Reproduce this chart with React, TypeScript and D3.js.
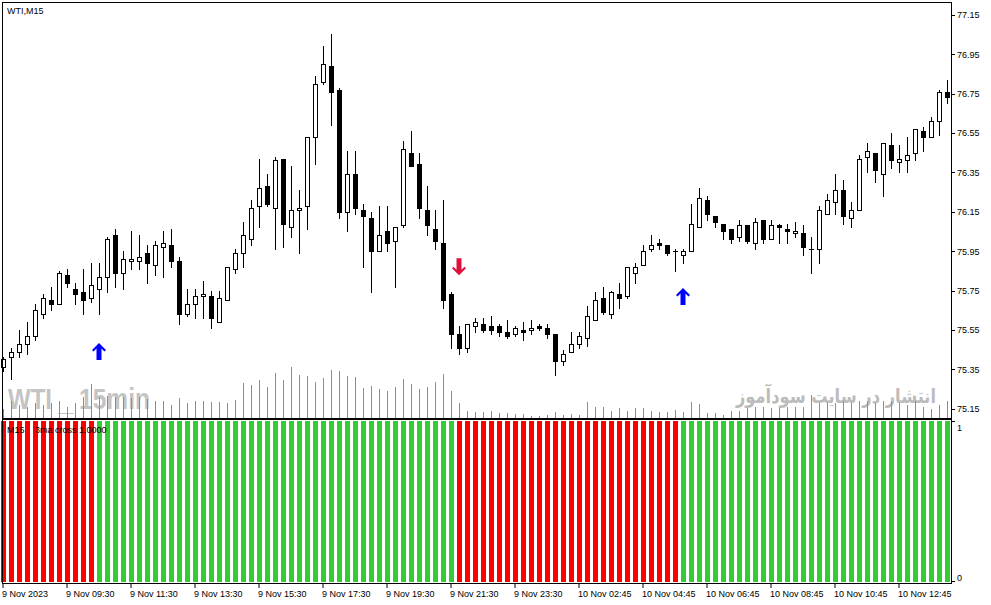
import React from "react";
import * as d3 from "d3";

// ---- data (WTI, M15) ----
const opens = [
  75.36, 75.41, 75.44, 75.48, 75.52, 75.63, 75.70, 75.68, 75.83, 75.76,
  75.74, 75.71, 75.76, 75.82, 76.03, 75.84, 75.90, 75.90, 75.94, 75.88,
  75.97, 75.98, 75.90, 75.63, 75.68, 75.72, 75.72, 75.59, 75.70, 75.86,
  75.94, 76.01, 76.18, 76.28, 76.17, 76.42, 76.07, 76.16, 76.18, 76.53,
  76.81, 76.89, 76.77, 76.15, 76.34, 76.16, 76.12, 75.95, 76.05, 76.00,
  76.08, 76.45, 76.39, 76.16, 76.06, 75.99, 75.73, 75.53, 75.46, 75.57,
  75.58, 75.57, 75.57, 75.54, 75.53, 75.55, 75.55, 75.57, 75.56, 75.53,
  75.39, 75.44, 75.48, 75.51, 75.60, 75.71, 75.63, 75.73, 75.72, 75.84,
  75.88, 75.96, 75.99, 75.98, 75.95, 75.93, 75.95, 76.07, 76.21, 76.13,
  76.09, 76.06, 76.02, 76.08, 75.99, 76.11, 76.01, 76.08, 76.06, 76.04,
  76.04, 75.96, 75.96, 76.14, 76.20, 76.26, 76.12, 76.16, 76.43, 76.45,
  76.34, 76.49, 76.40, 76.41, 76.45, 76.56, 76.53, 76.61, 76.76,
];
const highs = [
  75.41, 75.46, 75.55, 75.59, 75.68, 75.73, 75.77, 75.85, 75.86, 75.79,
  75.86, 75.89, 75.89, 76.02, 76.06, 75.95, 76.05, 76.03, 75.98, 76.00,
  76.05, 76.06, 75.92, 75.76, 75.76, 75.80, 75.75, 75.75, 75.87, 75.96,
  76.10, 76.21, 76.42, 76.34, 76.43, 76.42, 76.38, 76.26, 76.53, 76.84,
  76.99, 77.05, 76.78, 76.46, 76.46, 76.19, 76.15, 76.18, 76.18, 76.07,
  76.51, 76.56, 76.45, 76.28, 76.16, 76.21, 75.74, 75.57, 75.58, 75.61,
  75.61, 75.62, 75.58, 75.60, 75.57, 75.59, 75.60, 75.58, 75.58, 75.53,
  75.45, 75.54, 75.54, 75.67, 75.74, 75.77, 75.75, 75.79, 75.87, 75.89,
  75.98, 76.03, 76.01, 75.98, 75.96, 75.96, 76.19, 76.27, 76.23, 76.13,
  76.09, 76.06, 76.11, 76.08, 76.12, 76.11, 76.11, 76.09, 76.09, 76.10,
  76.08, 76.02, 76.18, 76.24, 76.34, 76.31, 76.20, 76.44, 76.50, 76.45,
  76.50, 76.55, 76.49, 76.53, 76.57, 76.58, 76.63, 76.77, 76.82,
];
const lows = [
  75.34, 75.30, 75.41, 75.43, 75.50, 75.61, 75.65, 75.68, 75.77, 75.68,
  75.63, 75.69, 75.63, 75.74, 75.77, 75.76, 75.86, 75.86, 75.79, 75.83,
  75.82, 75.87, 75.58, 75.62, 75.61, 75.61, 75.56, 75.59, 75.70, 75.84,
  75.87, 75.98, 76.07, 76.18, 75.96, 75.97, 76.02, 75.94, 76.06, 76.39,
  76.80, 76.59, 76.12, 76.05, 76.14, 75.87, 75.74, 75.95, 75.95, 75.77,
  76.07, 76.38, 76.12, 76.03, 75.96, 75.66, 75.46, 75.43, 75.44, 75.54,
  75.54, 75.53, 75.52, 75.51, 75.52, 75.50, 75.53, 75.55, 75.51, 75.32,
  75.37, 75.44, 75.46, 75.47, 75.60, 75.63, 75.61, 75.66, 75.71, 75.79,
  75.88, 75.95, 75.96, 75.93, 75.85, 75.89, 75.95, 76.07, 76.11, 76.07,
  76.01, 75.99, 76.00, 75.99, 75.96, 75.99, 76.01, 75.99, 75.99, 76.02,
  75.93, 75.84, 75.89, 76.14, 76.14, 76.09, 76.07, 76.16, 76.35, 76.30,
  76.23, 76.37, 76.35, 76.35, 76.41, 76.46, 76.53, 76.54, 76.70,
];
const closes = [
  75.40, 75.44, 75.48, 75.52, 75.65, 75.71, 75.68, 75.84, 75.79, 75.73,
  75.70, 75.78, 75.82, 76.01, 75.84, 75.91, 75.91, 75.92, 75.89, 75.98,
  75.99, 75.90, 75.63, 75.68, 75.72, 75.73, 75.61, 75.71, 75.87, 75.94,
  76.03, 76.17, 76.27, 76.19, 76.41, 76.09, 76.16, 76.17, 76.53, 76.80,
  76.90, 76.76, 76.15, 76.34, 76.17, 76.13, 75.95, 76.03, 75.99, 76.07,
  76.47, 76.38, 76.17, 76.08, 76.00, 75.70, 75.53, 75.46, 75.58, 75.59,
  75.55, 75.55, 75.54, 75.52, 75.56, 75.54, 75.56, 75.56, 75.53, 75.39,
  75.43, 75.48, 75.52, 75.62, 75.70, 75.64, 75.74, 75.71, 75.87, 75.87,
  75.95, 75.98, 75.98, 75.94, 75.95, 75.95, 76.09, 76.22, 76.14, 76.10,
  76.05, 76.01, 76.08, 76.00, 76.10, 76.01, 76.08, 76.07, 76.05, 76.05,
  75.97, 75.96, 76.16, 76.21, 76.26, 76.13, 76.16, 76.42, 76.46, 76.36,
  76.50, 76.41, 76.42, 76.44, 76.57, 76.53, 76.61, 76.76, 76.73,
];
const volumes = [
  450, 850, 650, 550, 750, 650, 750, 850, 550, 750,
  1050, 1700, 1050, 1100, 1050, 1050, 1000, 1050, 950, 850,
  850, 650, 1000, 750, 850, 850, 800, 800, 750, 900,
  1750, 1650, 1900, 1550, 2250, 1900, 2550, 2150, 2100, 1800,
  2000, 2400, 2350, 2100, 2050, 1500, 1600, 1450, 1350, 1550,
  1950, 1700, 1450, 1550, 1800, 2200, 1350, 750, 350, 300,
  300, 350, 250, 250, 200, 200, 100, 100, 150, 300,
  150, 200, 150, 800, 550, 550, 350, 500, 350, 500,
  500, 350, 300, 300, 400, 300, 800, 700, 250, 250,
  150, 350, 350, 500, 550, 550, 500, 500, 550, 550,
  550, 1150, 750, 750, 750, 850, 750, 850, 850, 750,
  850, 850, 750, 650, 850, 550, 450, 650, 850,
];
const priceTicks = [75.15, 75.35, 75.55, 75.75, 75.95, 76.15, 76.35, 76.55, 76.75, 76.95, 77.15];
const timeTickIndex = [0, 8, 16, 24, 32, 40, 48, 56, 64, 72, 80, 88, 96, 104, 112];
const timeLabels = [
  "9 Nov 2023", "9 Nov 09:30", "9 Nov 11:30", "9 Nov 13:30", "9 Nov 15:30",
  "9 Nov 17:30", "9 Nov 19:30", "9 Nov 21:30", "9 Nov 23:30", "10 Nov 02:45",
  "10 Nov 04:45", "10 Nov 06:45", "10 Nov 08:45", "10 Nov 10:45", "10 Nov 12:45",
];
// 3ma cross signals
const crossIndex = [12, 57, 85];
const crossDir = ["up", "down", "up"];
const crossPrice = [75.44, 75.87, 75.72];
const initialDir = "down";

const FONT = "'Liberation Sans', Arial, sans-serif";

export default function App() {
  const n = closes.length;
  const x = d3.scaleLinear().domain([0, n - 1]).range([3.5, 947.5]);
  const y = d3.scaleLinear().domain([75.15, 77.15]).range([408.7, 14.7]);
  const v = d3.scaleLinear().domain([0, 2550]).range([418, 367]);
  const s = d3.scaleLinear().domain([0, 1]).range([582, 421]);
  const fmt = d3.format(".2f");

  const dirAt = (i: number) => {
    let d = initialDir;
    crossIndex.forEach((ci, k) => {
      if (i >= ci) d = crossDir[k];
    });
    return d;
  };

  const arrowPath = (dir: string) => {
    const pts = [
      [0, -8.5], [7, -1.5], [5.5, 0], [2.5, -3], [2.5, 8.5],
      [-2.5, 8.5], [-2.5, -3], [-5.5, 0], [-7, -1.5],
    ];
    const k = dir === "up" ? 1 : -1;
    return "M" + pts.map((p) => `${p[0]},${p[1] * k}`).join("L") + "Z";
  };

  return (
    <svg
      width={991}
      height={605}
      style={{ position: "absolute", left: 0, top: 0, background: "#fff" }}
      fontFamily={FONT}
    >
      <rect x={0} y={0} width={991} height={605} fill="#fff" />

      {/* watermarks */}
      <text x={8} y={409} fontSize={30} fontWeight="bold" fill="#c4c4c4" textLength={44} lengthAdjust="spacingAndGlyphs">WTI</text>
      <line x1={58} x2={74} y1={413.5} y2={413.5} stroke="#c4c4c4" />
      <text x={79} y={409} fontSize={30} fontWeight="bold" fill="#c4c4c4" textLength={71} lengthAdjust="spacingAndGlyphs">15min</text>
      <text x={936} y={403} fontSize={20} fontWeight="bold" fill="#bcbcbc" textAnchor="end" textLength={200} lengthAdjust="spacingAndGlyphs" fontFamily="'DejaVu Sans', sans-serif">انتشار در سایت سودآموز</text>

      {/* volumes */}
      {volumes.map((vol, i) => (
        <line key={"v" + i} x1={x(i)} x2={x(i)} y1={418} y2={Math.round(v(vol))} stroke="#32cd32" strokeWidth={1} />
      ))}

      {/* candles */}
      {closes.map((c, i) => {
        const o = opens[i];
        const cx = x(i);
        const yo = Math.round(y(o));
        const yc = Math.round(y(c));
        const top = Math.min(yo, yc);
        const bot = Math.max(yo, yc);
        const bull = c >= o;
        return (
          <g key={"c" + i}>
            <line x1={cx} x2={cx} y1={Math.round(y(highs[i]))} y2={Math.round(y(lows[i])) + 1} stroke="#000" />
            {bot - top < 1 ? (
              <line x1={cx - 2.5} x2={cx + 2.5} y1={top + 0.5} y2={top + 0.5} stroke="#000" />
            ) : (
              <rect x={cx - 2} y={top + 0.5} width={4} height={bot - top} fill={bull ? "#fff" : "#000"} stroke="#000" />
            )}
          </g>
        );
      })}

      {/* arrows */}
      {crossIndex.map((ci, k) => (
        <path key={"a" + k} d={arrowPath(crossDir[k])} transform={`translate(${x(ci) - 0.5},${y(crossPrice[k])})`} fill={crossDir[k] === "up" ? "#0000ff" : "#e0103c"} />
      ))}

      <text x={7} y={14} fontSize={9} fill="#000">WTI,M15</text>

      {/* sub window bars */}
      {closes.map((_, i) => (
        <rect key={"s" + i} x={x(i) - 2.5} y={s(1)} width={5} height={s(0) - s(1)} fill={dirAt(i) === "up" ? "#32cd32" : "#ff0000"} />
      ))}
      <text x={7} y={433} fontSize={9} fill="#000">M15</text>
      <text x={35} y={433} fontSize={9} fill="#000">3ma cross 1.0000</text>

      {/* frames */}
      <rect x={2.5} y={2.5} width={949} height={416} fill="none" stroke="#000" />
      <rect x={2.5} y={419.5} width={949} height={164} fill="none" stroke="#000" />

      {/* price axis */}
      {priceTicks.map((p) => (
        <g key={"p" + p}>
          <line x1={951} x2={955} y1={Math.round(y(p)) + 0.5} y2={Math.round(y(p)) + 0.5} stroke="#000" />
          <text x={957} y={y(p) + 3.5} fontSize={9} fill="#000">{fmt(p)}</text>
        </g>
      ))}
      <line x1={951} x2={955} y1={421.5} y2={421.5} stroke="#000" />
      <text x={957} y={431} fontSize={9} fill="#000">1</text>
      <line x1={951} x2={955} y1={581.5} y2={581.5} stroke="#000" />
      <text x={957} y={581} fontSize={9} fill="#000">0</text>

      {/* time axis */}
      {timeTickIndex.map((ti, k) => (
        <g key={"t" + ti}>
          <line x1={x(ti) - 0.5} x2={x(ti) - 0.5} y1={584} y2={588} stroke="#000" />
          <text x={x(ti) - 1.5} y={597} fontSize={9} fill="#000">{timeLabels[k]}</text>
        </g>
      ))}
    </svg>
  );
}
